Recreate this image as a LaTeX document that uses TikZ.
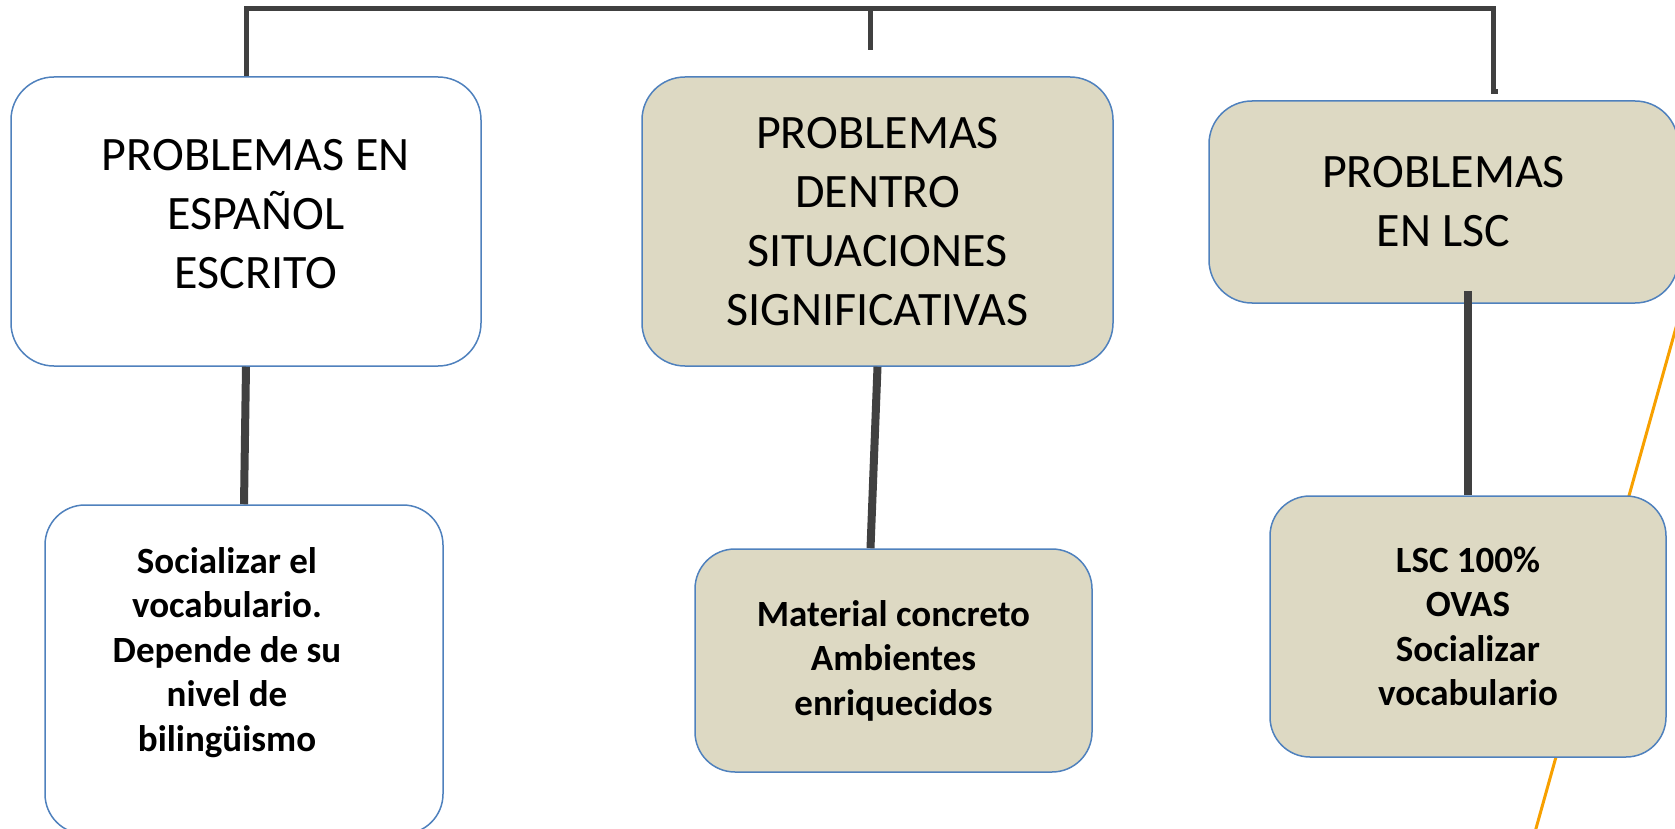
\documentclass[tikz,border=0pt]{standalone}
\usepackage{fontspec}
\setmainfont{Carlito}
\usetikzlibrary{calc}
\definecolor{caja}{RGB}{221,217,195}
\definecolor{borde}{RGB}{79,129,189}
\definecolor{linea}{RGB}{64,64,64}
\definecolor{naranja}{RGB}{247,160,0}
\begin{document}
\begin{tikzpicture}[x=1pt,y=-1pt,
    titulo/.style={draw=borde,line width=1.5pt,rounded corners=43pt,align=center,inner sep=0pt,
        font=\fontsize{48}{59}\selectfont},
    accion/.style={draw=borde,line width=1.5pt,rounded corners=40pt,align=center,inner sep=0pt,
        font=\fontsize{37}{44.5}\selectfont\bfseries},
    conn/.style={linea,line width=8pt},
    corchete/.style={linea,line width=5pt}]
    \useasboundingbox (0,0) rectangle (1675,829);
    \clip (0,0) rectangle (1675,829);
    % linea naranja detras de las cajas
    \coordinate (na) at (1677,324);
    \coordinate (nb) at (1535,832);
    \draw[naranja,line width=3pt] (na) -- (nb);
    % cajas de problemas
    \node[titulo,fill=white,minimum width=470,minimum height=289,
        label={[font=\fontsize{48}{59}\selectfont,align=center,xshift=10pt,yshift=7pt]center:PROBLEMAS EN\\ESPAÑOL\\ESCRITO}]
        (escrito) at (246,221.5) {};
    \node[titulo,fill=caja,minimum width=471,minimum height=289] (situaciones) at (877.5,221.5)
        {PROBLEMAS\\DENTRO\\SITUACIONES\\SIGNIFICATIVAS};
    \node[titulo,fill=caja,minimum width=469,minimum height=202] (lsc) at (1443.5,202)
        {PROBLEMAS\\EN LSC};
    % cajas de acciones
    \node[accion,fill=white,minimum width=398,minimum height=329,
        label={[font=\fontsize{37}{44.5}\selectfont\bfseries,align=center,xshift=-17pt,yshift=17pt]center:Socializar el\\vocabulario.\\Depende de su\\nivel de\\bilingüismo}]
        (vocab) at (244,669.5) {};
    \node[accion,fill=caja,minimum width=397,minimum height=223] (material) at (893.5,660.5)
        {Material concreto\\Ambientes\\enriquecidos};
    \node[accion,fill=caja,minimum width=396,minimum height=261] (recursos) at (1468,626.5)
        {LSC 100\%\\OVAS\\Socializar\\vocabulario};
    % corchete superior
    \coordinate (arriba) at (870,9);
    \coordinate (gancho) at (1493,92);
    \draw[corchete] (escrito.north) |- (arriba) -| (gancho) -- ++(5,0);
    \draw[corchete] (arriba) -- ++(0,41);
    % conectores
    \draw[conn] (escrito.south) -- (vocab.north);
    \draw[conn] (situaciones.south) -- ([xshift=-23pt]material.north);
    \draw[conn] ($(lsc.south -| recursos.north)+(0,-13)$) -- (recursos.north);
\end{tikzpicture}
\end{document}
